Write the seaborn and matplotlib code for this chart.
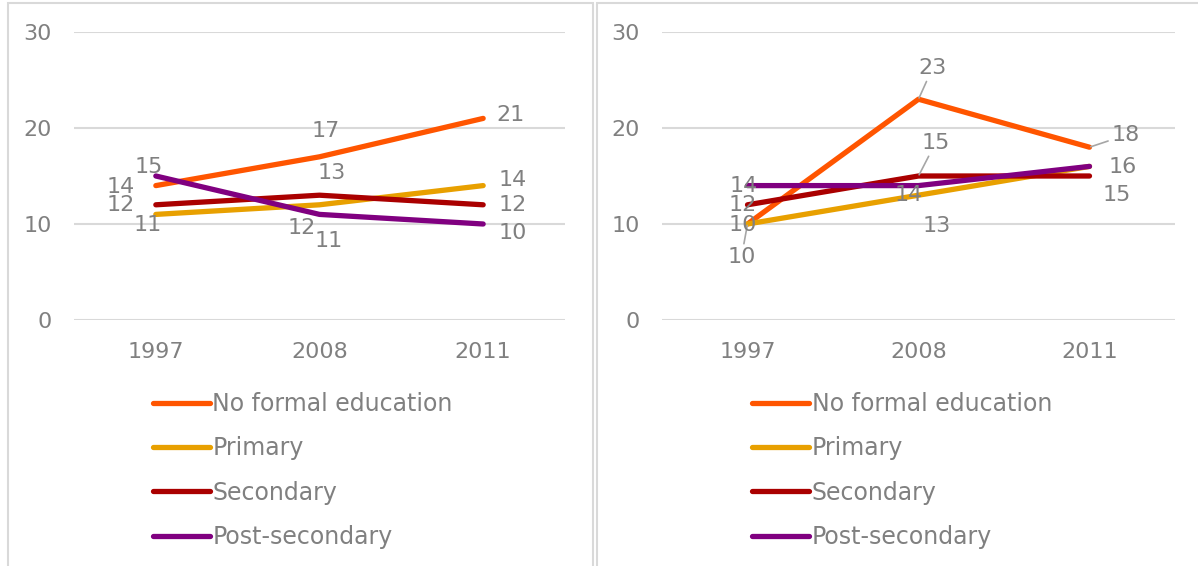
import pandas as pd
import seaborn as sns
import matplotlib.pyplot as plt
from matplotlib.patches import Rectangle
from matplotlib.lines import Line2D

# ---- data
years = ['1997', '2008', '2011']
levels = ['No formal education', 'Primary', 'Secondary', 'Post-secondary']

left_no_formal = [14, 17, 21]
left_primary = [11, 12, 14]
left_secondary = [12, 13, 12]
left_post = [15, 11, 10]

right_no_formal = [10, 23, 18]
right_primary = [10, 13, 16]
right_secondary = [12, 15, 15]
right_post = [14, 14, 16]

colors = ['#FF5500', '#E8A000', '#AA0000', '#800080']
GRAY = '#808080'
GRID = '#d9d9d9'

# label offsets in pixels (dx, dy with dy downward), None = no label, third item = leader line
left_offsets = {
    'No formal education': [(-35, 1), (6, -26), (27, -3)],
    'Primary': [(-8, 11), (-18, 23), (30, -6)],
    'Secondary': [(-35, 0), (12, -22), (30, 0)],
    'Post-secondary': [(-7, -9), (9, 27), (30, 9)],
}
right_offsets = {
    'No formal education': [(-6, 33, True), (14, -31, True), (36, -12, True)],
    'Primary': [(-5, 1), (18, 31), None],
    'Secondary': [(-5, 0), (17, -33, True), (27, 19)],
    'Post-secondary': [(-4, 0), (-10, 9), (33, 1)],
}


def make_df(no_formal, primary, secondary, post):
    frames = []
    for level, vals in zip(levels, [no_formal, primary, secondary, post]):
        frames.append(pd.DataFrame({'year': years, 'level': level, 'value': vals}))
    return pd.concat(frames, ignore_index=True)


def draw_panel(ax, df, offsets):
    sns.lineplot(data=df, x='year', y='value', hue='level', hue_order=levels,
                 palette=colors, linewidth=3.8, sort=False, legend=False, ax=ax,
                 solid_capstyle='round')
    ax.set_xlim(-0.5, 2.5)
    ax.set_ylim(0, 30)
    ax.set_yticks([0, 10, 20, 30])
    ax.grid(axis='y', color=GRID, linewidth=1.5)
    ax.grid(axis='x', visible=False)
    ax.set_axisbelow(True)
    for s in ax.spines.values():
        s.set_visible(False)
    ax.tick_params(axis='both', length=0, colors=GRAY, labelsize=16)
    ax.tick_params(axis='x', pad=16)
    ax.tick_params(axis='y', pad=16)
    ax.set_xlabel('')
    ax.set_ylabel('')

    for level in levels:
        sub = df[df['level'] == level].reset_index(drop=True)
        for i, off in enumerate(offsets[level]):
            if off is None:
                continue
            dx, dy = off[0], off[1]
            leader = len(off) > 2
            kw = {}
            if leader:
                kw['arrowprops'] = dict(arrowstyle='-', color='#a6a6a6', lw=1.2,
                                        shrinkA=0, shrinkB=1)
            ax.annotate(str(sub.loc[i, 'value']), xy=(i, sub.loc[i, 'value']),
                        xytext=(dx, -dy), textcoords='offset pixels',
                        ha='center', va='center', fontsize=16, color=GRAY, **kw)


def add_legend(fig, x_px):
    handles = [Line2D([0], [0], color=c, lw=3.8, solid_capstyle='round') for c in colors]
    fig.legend(handles, levels, loc='upper left',
               bbox_to_anchor=(x_px / 1198, 1 - 392 / 566),
               bbox_transform=fig.transFigure, frameon=False, fontsize=17,
               labelcolor=GRAY, handlelength=2.4, handletextpad=0.12,
               labelspacing=0.86, borderpad=0, borderaxespad=0)


sns.set_theme(style='white')
plt.rcParams['font.family'] = ['DejaVu Sans']

fig = plt.figure(figsize=(11.98, 5.66), dpi=100)
fig.patch.set_facecolor('white')

# panel borders
fig.patches.append(Rectangle((8 / 1198, -0.02), (593 - 8) / 1198, 1.02 - 3 / 566,
                             transform=fig.transFigure, fill=False,
                             edgecolor=GRID, lw=1.5))
fig.patches.append(Rectangle((597 / 1198, -0.02), (1210 - 597) / 1198, 1.02 - 3 / 566,
                             transform=fig.transFigure, fill=False,
                             edgecolor=GRID, lw=1.5, clip_on=False))

bottom = (566 - 320) / 566
height = 288 / 566
ax1 = fig.add_axes([74 / 1198, bottom, (565 - 74) / 1198, height])
ax2 = fig.add_axes([662 / 1198, bottom, (1175 - 662) / 1198, height])

draw_panel(ax1, make_df(left_no_formal, left_primary, left_secondary, left_post), left_offsets)
draw_panel(ax2, make_df(right_no_formal, right_primary, right_secondary, right_post), right_offsets)

add_legend(fig, 153)
add_legend(fig, 752)

plt.savefig('out.png', dpi=100)
plt.close()
